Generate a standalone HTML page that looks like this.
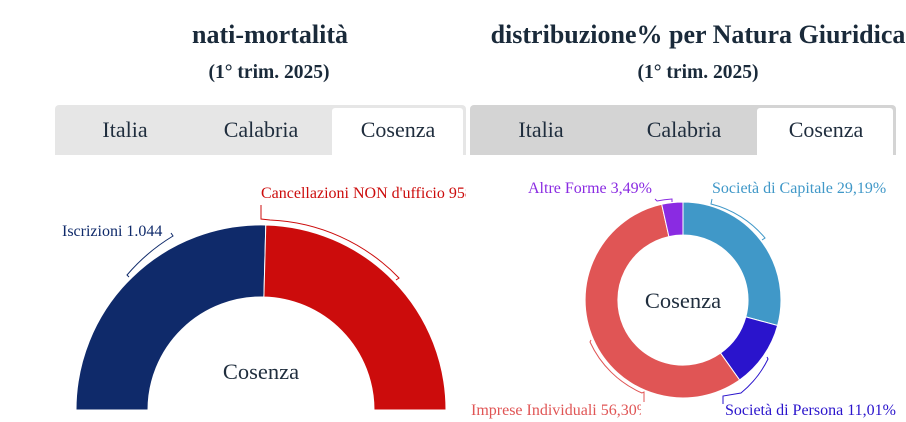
<!DOCTYPE html>
<html><head><meta charset="utf-8"><style>
body{margin:0;width:906px;height:422px;background:#fff;overflow:hidden;font-family:"Liberation Serif",serif;}
svg{position:absolute;left:0;top:0}
</style></head><body>
<svg width="906" height="422" viewBox="0 0 906 422" font-family="Liberation Serif, serif">
<defs>
<clipPath id="cl"><rect x="0" y="0" width="466" height="422"/></clipPath>
<clipPath id="cr"><rect x="0" y="0" width="641" height="422"/></clipPath>
</defs>
<text x="270" y="43" text-anchor="middle" font-size="26" font-weight="bold" fill="#1a2a3a">nati-mortalità</text>
<text x="269" y="78" text-anchor="middle" font-size="19.5" font-weight="bold" fill="#1a2a3a">(1° trim. 2025)</text>
<text x="698" y="43" text-anchor="middle" font-size="26" font-weight="bold" fill="#1a2a3a">distribuzione% per Natura Giuridica</text>
<text x="698" y="78" text-anchor="middle" font-size="19.5" font-weight="bold" fill="#1a2a3a">(1° trim. 2025)</text>

<path d="M55,155 V109 a4,4 0 0 1 4,-4 H462 a4,4 0 0 1 4,4 V155 Z" fill="#e6e6e6"/>
<path d="M332,155 V111 a3,3 0 0 1 3,-3 H460 a3,3 0 0 1 3,3 V155 Z" fill="#fff"/>
<g font-size="22" fill="#1f2d3d" text-anchor="middle">
<text x="125" y="137">Italia</text><text x="261" y="137">Calabria</text><text x="398" y="137">Cosenza</text>
</g>
<path d="M470,155 V109 a4,4 0 0 1 4,-4 H892 a4,4 0 0 1 4,4 V155 Z" fill="#d4d4d4"/>
<path d="M757,155 V111 a3,3 0 0 1 3,-3 H890 a3,3 0 0 1 3,3 V155 Z" fill="#fff"/>
<g font-size="22" fill="#1f2d3d" text-anchor="middle">
<text x="541" y="137">Italia</text><text x="684" y="137">Calabria</text><text x="826" y="137">Cosenza</text>
</g>

<path d="M76,410 A185,185 0 0 1 265.8,225 L263.9,297 A113,113 0 0 0 148,410 Z" fill="#0f2a6a" stroke="#fff" stroke-width="1"/>
<path d="M265.8,225 A185,185 0 0 1 446,410 L374,410 A113,113 0 0 0 263.9,297 Z" fill="#cc0c0c" stroke="#fff" stroke-width="1"/>
<path d="M129,277 L127,275 A189,189 0 0 1 173,236 L171,233" fill="none" stroke="#0f2a6a"/>
<text x="62" y="236" font-size="16" fill="#0f2a6a">Iscrizioni 1.044</text>
<path d="M261,205 V219 L270,220 A190,190 0 0 1 399,278 L396,280" fill="none" stroke="#cc0c0c"/>
<text x="261" y="198" font-size="16" fill="#cc0c0c" clip-path="url(#cl)">Cancellazioni NON d'ufficio 958</text>
<text x="261" y="379" text-anchor="middle" font-size="22.5" fill="#1f2d3d">Cosenza</text>

<g stroke="#fff" stroke-width="1">
<path d="M683,202 A98,98 0 0 1 777.6,325.5 L745.8,316.9 A65,65 0 0 0 683,235 Z" fill="#4098c8"/>
<path d="M777.6,325.5 A98,98 0 0 1 739.6,380 L720.5,353.1 A65,65 0 0 0 745.8,316.9 Z" fill="#2a14cc"/>
<path d="M739.6,380 A98,98 0 1 1 661.7,204.3 L668.9,236.6 A65,65 0 1 0 720.5,353.1 Z" fill="#e05555"/>
<path d="M661.7,204.3 A98,98 0 0 1 683,202 L683,235 A65,65 0 0 0 668.9,236.6 Z" fill="#8a2be2"/>
</g>
<path d="M712,199 L711,204 A102,102 0 0 1 765,238 L762,240" fill="none" stroke="#4098c8"/>
<path d="M767,357 L768,359 A102,102 0 0 1 741,393 L723,396 V404" fill="none" stroke="#2a14cc"/>
<path d="M591,340 L590,342 A102,102 0 0 0 642,393 L644,392 V402" fill="none" stroke="#e05555"/>
<path d="M655,199 L657,201 A102,102 0 0 1 672,199 L672,202" fill="none" stroke="#8a2be2"/>
<text x="712" y="193" font-size="16" fill="#4098c8">Società di Capitale 29,19%</text>
<text x="528" y="193" font-size="16" fill="#8a2be2">Altre Forme 3,49%</text>
<text x="725" y="415" font-size="16" fill="#2a14cc">Società di Persona 11,01%</text>
<text x="471" y="415" font-size="16" fill="#e05555" clip-path="url(#cr)">Imprese Individuali 56,30%</text>
<text x="683" y="308" text-anchor="middle" font-size="22.5" fill="#1f2d3d">Cosenza</text>
</svg>
</body></html>
